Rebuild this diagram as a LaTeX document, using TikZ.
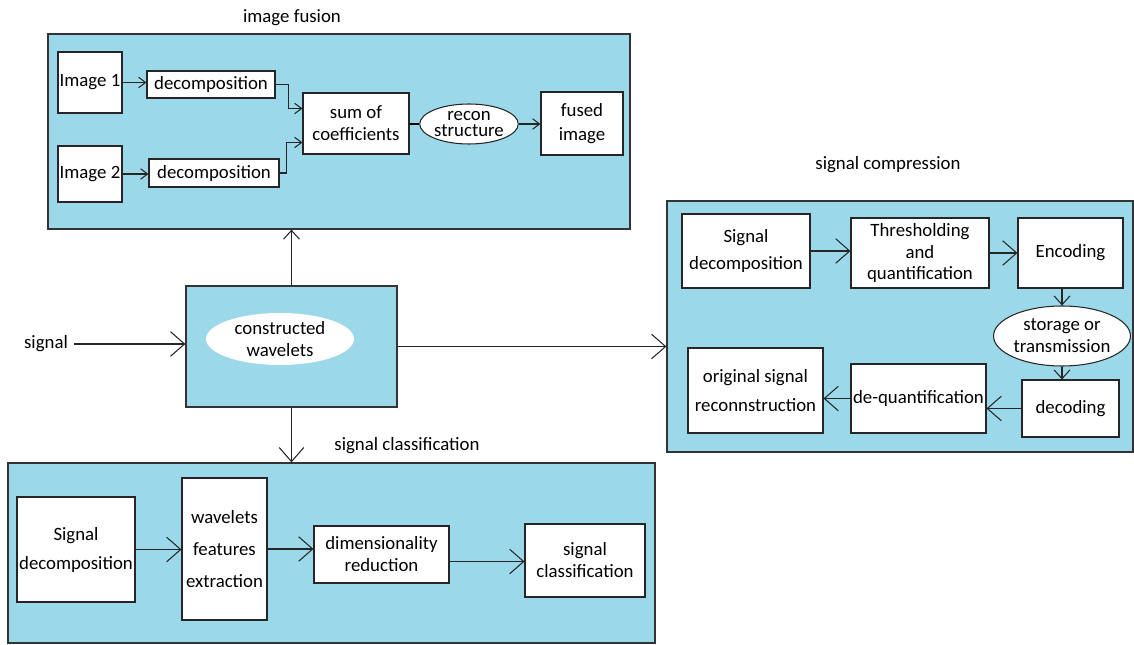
\documentclass[tikz,border=0pt]{standalone}
\usepackage{fontspec}
\setmainfont{Carlito}
\usetikzlibrary{arrows.meta,shapes.geometric,fit,calc}
\definecolor{panelblue}{RGB}{155,217,234}
\tikzset{
  panel/.style={draw=black!80, fill=panelblue, line width=0.7pt, inner sep=0pt},
  box/.style={draw=black!85, fill=white, line width=0.6pt, inner sep=0pt, align=center},
  oval/.style={ellipse, draw=black!85, fill=white, line width=0.6pt, inner sep=0pt, align=center},
  arr/.style={-{Straight Barb[length=8pt,width=14pt]}, draw=black!85, line width=0.6pt},
  marr/.style={-{Straight Barb[length=5pt,width=9pt]}, draw=black!85, line width=0.6pt},
  sarr/.style={-{Straight Barb[length=4pt,width=6pt]}, draw=black!85, line width=0.6pt},
}
\begin{document}
\begin{tikzpicture}[x=0.02cm, y=-0.02cm, font=\fontsize{10.7pt}{12.5pt}\selectfont]
  \useasboundingbox (0,0) rectangle (1134,645);
  % Panels
  \node[panel, fit={(48,34) (630,229)}] (fus) {};
  \node[panel, fit={(667,201) (1133,452)}] (cmp) {};
  \node[panel, fit={(8,463) (655,643)}] (cls) {};
  \node[panel, fit={(186,286) (397,407)}] (cw) {};
  \node[oval, draw=none, minimum width=2.96cm, minimum height=1.04cm] (cwl) at (280,339) {constructed\\wavelets};
  % Titles
  \node (tfus) at (292,18) {image fusion};
  \node (tcmp) at (888,165) {signal compression};
  \node (tcls) at (407,446) {signal classification};
  \node (sig) at (46,344) {signal};
  % Image fusion
  \node[box, minimum width=1.28cm, minimum height=1.22cm] (img1) at (90,82.5) {Image 1};
  \node[box, minimum width=1.28cm, minimum height=1.12cm] (img2) at (90,174) {Image 2};
  \node[box, minimum width=2.56cm, minimum height=0.54cm] (dec1) at (211,84.5) {decomposition};
  \node[box, minimum width=2.6cm, minimum height=0.56cm] (dec2) at (214,173) {decomposition};
  \node[box, minimum width=2.12cm, minimum height=1.22cm] (sum) at (356,123.5) {sum of\\coefficients};
  \node[oval, minimum width=1.7cm, minimum height=0.8cm] (rec) at (469,124) {recon\\[-3pt]structure};
  \node[box, minimum width=1.64cm, minimum height=1.26cm] (fsd) at (582,123.5) {fused\\[1pt]image};
  \draw[sarr] (img1.east) -- (img1.east -| dec1.west);
  \draw[sarr] (img2.east) -- (img2.east -| dec2.west);
  \draw[sarr] (dec1.east) -- ++(13,0) |- ($(sum.west)+(0,-15)$);
  \draw[sarr] (dec2.east) -- ++(7,0) |- ($(sum.west)+(0,19)$);
  \draw[line width=0.6pt] (rec.west) -- (rec.west -| sum.east);
  \draw[sarr] (rec.east) -- (rec.east -| fsd.west);
  % Signal compression
  \node[box, minimum width=2.56cm, minimum height=1.48cm] (csd) at (746,251) {Signal\\[3pt]decomposition};
  \node[box, minimum width=2.76cm, minimum height=1.4cm] (thr) at (920,253) {Thresholding\\and\\quantification};
  \node[box, minimum width=2.1cm, minimum height=1.4cm] (enc) at (1070.5,253) {Encoding};
  \node[oval, minimum width=2.56cm, minimum height=1.2cm] (sto) at (1062,336) {storage or\\transmission};
  \node[box, minimum width=1.94cm, minimum height=1.14cm] (dcd) at (1070.5,408.5) {decoding};
  \node[box, minimum width=2.7cm, minimum height=1.38cm] (dq) at (918.5,398.5) {de-quantification};
  \node[box, minimum width=2.7cm, minimum height=1.7cm] (osr) at (755.5,390.5) {original signal\\[3.5pt]reconnstruction};
  \draw[arr] (csd.east) -- (csd.east -| thr.west);
  \draw[arr] (thr.east) -- (thr.east -| enc.west);
  \draw[marr] (sto.north |- enc.south) -- (sto.north);
  \draw[marr] (sto.south) -- (sto.south |- dcd.north);
  \draw[arr] (dcd.west) -- (dcd.west -| dq.east);
  \draw[arr] (dq.west) -- (dq.west -| osr.east);
  % Signal classification
  \node[box, minimum width=2.36cm, minimum height=2.1cm] (ksd) at (76,549.5) {Signal\\[4pt]decomposition};
  \node[box, minimum width=1.7cm, minimum height=2.84cm] (wfe) at (224.5,549) {wavelets\\[5.5pt]features\\[5.5pt]extraction};
  \node[box, minimum width=2.7cm, minimum height=1.14cm] (dim) at (381.5,554.5) {dimensionality\\reduction};
  \node[box, minimum width=2.4cm, minimum height=1.46cm] (kcl) at (585,560.5) {signal\\classification};
  \draw[arr] (ksd.east) -- (ksd.east -| wfe.west);
  \draw[arr] (wfe.east) -- (wfe.east -| dim.west);
  \draw[arr] ([yshift=-4pt]dim.east) -- ([yshift=-4pt]dim.east -| kcl.west);
  % Central block
  \draw[arr] (sig.east) -- (sig.east -| cw.west);
  \draw[marr] (cw.north) -- (cw.north |- fus.south);
  \draw[arr] (cw.south) -- (cw.south |- cls.north);
  \draw[arr] (cw.east) -- (cw.east -| cmp.west);
\end{tikzpicture}
\end{document}
